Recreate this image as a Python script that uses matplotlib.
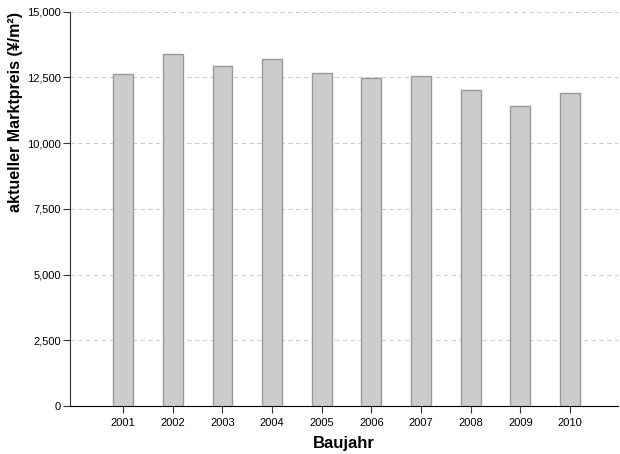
import matplotlib.pyplot as plt
from matplotlib.ticker import FuncFormatter

plt.rcParams['font.family'] = ['Liberation Sans', 'DejaVu Sans']

years = ['2001', '2002', '2003', '2004', '2005', '2006', '2007', '2008', '2009', '2010']
prices = [12620, 13400, 12930, 13210, 12660, 12490, 12540, 12040, 11430, 11910]

fig = plt.figure(figsize=(6.2, 4.54), dpi=100)
ax = fig.add_axes([0.113, 0.106, 0.884, 0.868])

x = range(len(years))
ax.bar(x, prices, width=0.4, color='#cccccc', edgecolor='#999999', linewidth=1, zorder=3)

ax.set_xlim(-1.07, 9.97)
ax.set_ylim(0, 15000)
ax.set_yticks([0, 2500, 5000, 7500, 10000, 12500, 15000])
ax.yaxis.set_major_formatter(FuncFormatter(lambda v, p: f'{int(v):,}'))
ax.set_xticks(list(x))
ax.set_xticklabels(years)

ax.grid(axis='y', linestyle=(0, (4, 3)), color='#cccccc', linewidth=0.8, zorder=0)
ax.spines['top'].set_visible(False)
ax.spines['right'].set_visible(False)
ax.spines['left'].set_color('#333333')
ax.spines['bottom'].set_color('#000000')
ax.tick_params(axis='both', labelsize=8, length=5, color='#333333')
ax.tick_params(axis='y', pad=1.5)

ax.set_xlabel('Baujahr', fontsize=12, fontweight='bold', labelpad=6)
ax.set_ylabel('aktueller Marktpreis (¥/m²)', fontsize=11.5, fontweight='bold')
ax.yaxis.set_label_coords(-0.085, 0.745)

fig.savefig('out.png', dpi=100)
